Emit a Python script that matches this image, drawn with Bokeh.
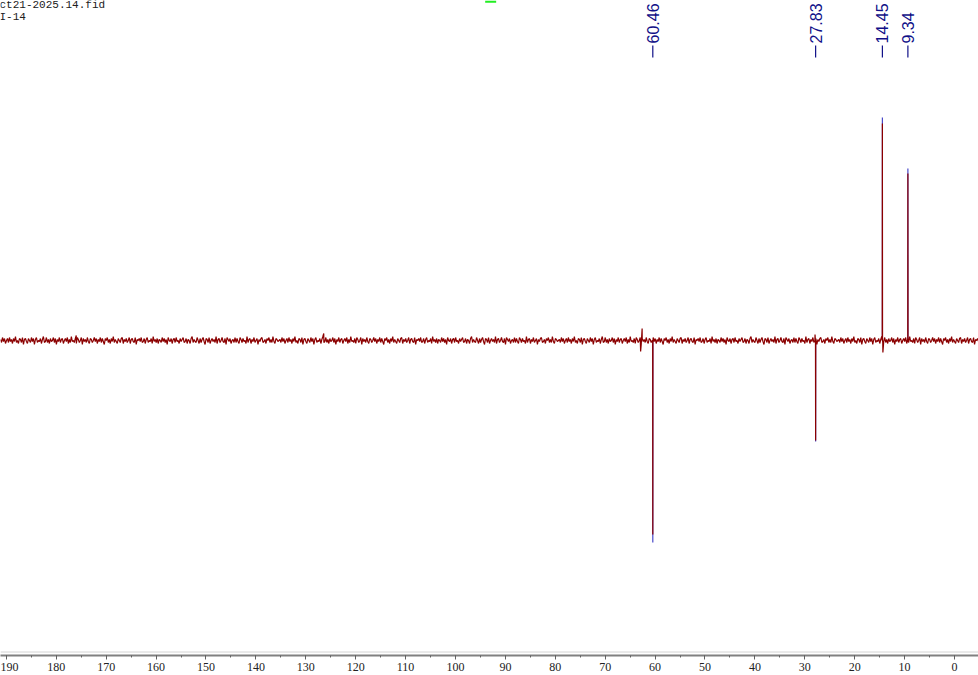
import numpy as np
from bokeh.plotting import figure
from bokeh.models import Range1d, SingleIntervalTicker, Span, Label
from bokeh.core.properties import value
from bokeh.embed import file_html
from bokeh.resources import INLINE

# ---- data (ppm / intensity) ----
title_lines = ["ct21-2025.14.fid", "I-14"]
peak_ppm = [60.46, 27.83, 14.45, 9.34]
peak_red = [-194, -100, 217, 167]
peak_blue = [-202, -101, 223, 172]
peak_labels = ["60.46", "27.83", "14.45", "9.34"]

feat_ppm = [62.9, 62.6, 14.35, 27.95, 126.4, 176.0]
feat_val = [-11, 12, -12, 6, 7, 5]

noise = [1, -2, 3, -1, 2, -3, 0, 2, -2, 3, -1, 1, -3, 2, -1, 4, -2, 0, -3, 2,
         1, -2, 3, -4, 1, 2, -1, -3, 2, 0, -2, 3, -1, 2, -4, 1, 3, -2, 0, -1,
         2, -3, 1, 4, -2, -1, 3, -2, 1, -3, 2, -1, 0, 3, -2, 2, -4, 1, -1, 3,
         -2, 1, 2, -3, 0, 2, -1, 3, -3, 1, -2, 4, -1, 0, -2, 2, -3, 3, 1, -2,
         0, 3, -4, 2, -1, 1, -2, 3, -1, -3, 2, 1, -2, 0, 3, -1, 2, -3, 1, -1,
         3, -2, 2, -1, -4, 2, 0, 3, -2, 1, -3, 2, -1, 4, -2, 1, -1, -3, 2, 0,
         -2, 2, 3, -3, 1, -1, 2, -2, 0, 3, -3, 1, 2, -1, -2, 3, -4, 1, 0, 2,
         -1, 3, -2, -1, 2, -3, 1, 3, -2, 0, -1, 2, -3, 4, -1, 1, -2, 2, -3, 1,
         0, -2, 3, -1, 2, -2, 1, -4, 3, 0, -1, 2, -3, 1, 2, -2, 3, -1, 0, -3,
         2, -1, 1, 3, -2, -1, 2, -3, 1, 0, -3, 2, 4, -2, 1, -1, -2, 3, 0, -3,
         2, -2, 1, 3, -1, -4, 2, 1, -2, 3, -3, 0, 2, -1, 1, -2, 4, -3, 1, 2,
         -2, 0, 3, -1, -2, 2, -4, 3, 1, -1, 2, -3, 0, 1, -2, 3, -2, 2, -1, -3,
         3, 1, -2, 2, -1, 0, -3, 4, -2, 1, 2, -3, 1, -1, 3, -2, 0, 2, -4, 1,
         -1, 2, 3, -2, -1, 1, -3, 2, 0, 3, -2, 1, -2, 4, -1, -3, 2, 1, -1, 0]

x_left, x_right = 191.18, -4.81
y_bottom, y_top = -315, 340

# ---- build spectrum trace ----
grid = np.arange(x_left, x_right - 0.2, -0.2)
vals = np.array([noise[i % len(noise)] for i in range(len(grid))], dtype=float)
xs = list(grid)
ys = list(vals)
for p, h in zip(peak_ppm, peak_red):
    xs += [p + 0.03, p, p - 0.03]
    ys += [0, h, 0]
for p, h in zip(feat_ppm, feat_val):
    xs.append(p)
    ys.append(h)
order = np.argsort(-np.array(xs))
xs = np.array(xs)[order]
ys = np.array(ys)[order]

p = figure(width=978, height=675, output_backend="svg", toolbar_location=None,
           x_range=Range1d(x_left, x_right), y_range=Range1d(y_bottom, y_top),
           min_border_left=0, min_border_right=0, min_border_top=0,
           min_border_bottom=20, margin=(0, 0, 0, 0))
p.outline_line_color = None
p.xgrid.visible = False
p.ygrid.visible = False
p.yaxis.visible = False
p.background_fill_color = "white"
p.border_fill_color = "white"

xa = p.xaxis[0]
xa.ticker = SingleIntervalTicker(interval=10, num_minor_ticks=2)
xa.axis_line_color = "#808080"
xa.axis_line_width = 2
xa.major_tick_line_color = "#606060"
xa.minor_tick_line_color = "#606060"
xa.major_tick_in = 0
xa.major_tick_out = 4
xa.minor_tick_in = 0
xa.minor_tick_out = 2
xa.major_label_text_font = "Liberation Serif"
xa.major_label_text_font_size = "12px"
xa.major_label_text_color = "#222222"
xa.major_label_standoff = 3

p.add_layout(Span(location=-311.5, dimension="width", line_color="#d4d4d4", line_width=1))

# blue tips under the red trace
p.segment(x0=peak_ppm, y0=[0] * 4, x1=peak_ppm, y1=peak_blue, line_color="#4848c8", line_width=1.2)
p.line(xs, ys, line_color="#8b0000", line_width=1.2)

# peak labels
dash_lo, dash_hi, text_y = 283, 295, 297
p.segment(x0=peak_ppm, y0=[dash_lo] * 4, x1=peak_ppm, y1=[dash_hi] * 4, line_color="#101088", line_width=1.2)
p.text(x=peak_ppm, y=[text_y] * 4, text=peak_labels, angle=np.pi / 2,
       text_align="left", text_baseline="middle", text_color="#101088",
       text_font=value("Liberation Sans"), text_font_size="16px")

# header text
for i, t in enumerate(title_lines):
    p.add_layout(Label(x=x_left, y=y_top - 7 - 12 * i, text=t, text_font="Liberation Mono",
                       text_font_size="11px", text_color="#202020", text_baseline="alphabetic",
                       x_offset=-1, y_offset=3))

# small green marker at the top
p.quad(left=[94.05], right=[91.85], bottom=[337.7], top=[340], fill_color="#22ee22", line_color=None)

open("out.html", "w").write(file_html(p, INLINE))
